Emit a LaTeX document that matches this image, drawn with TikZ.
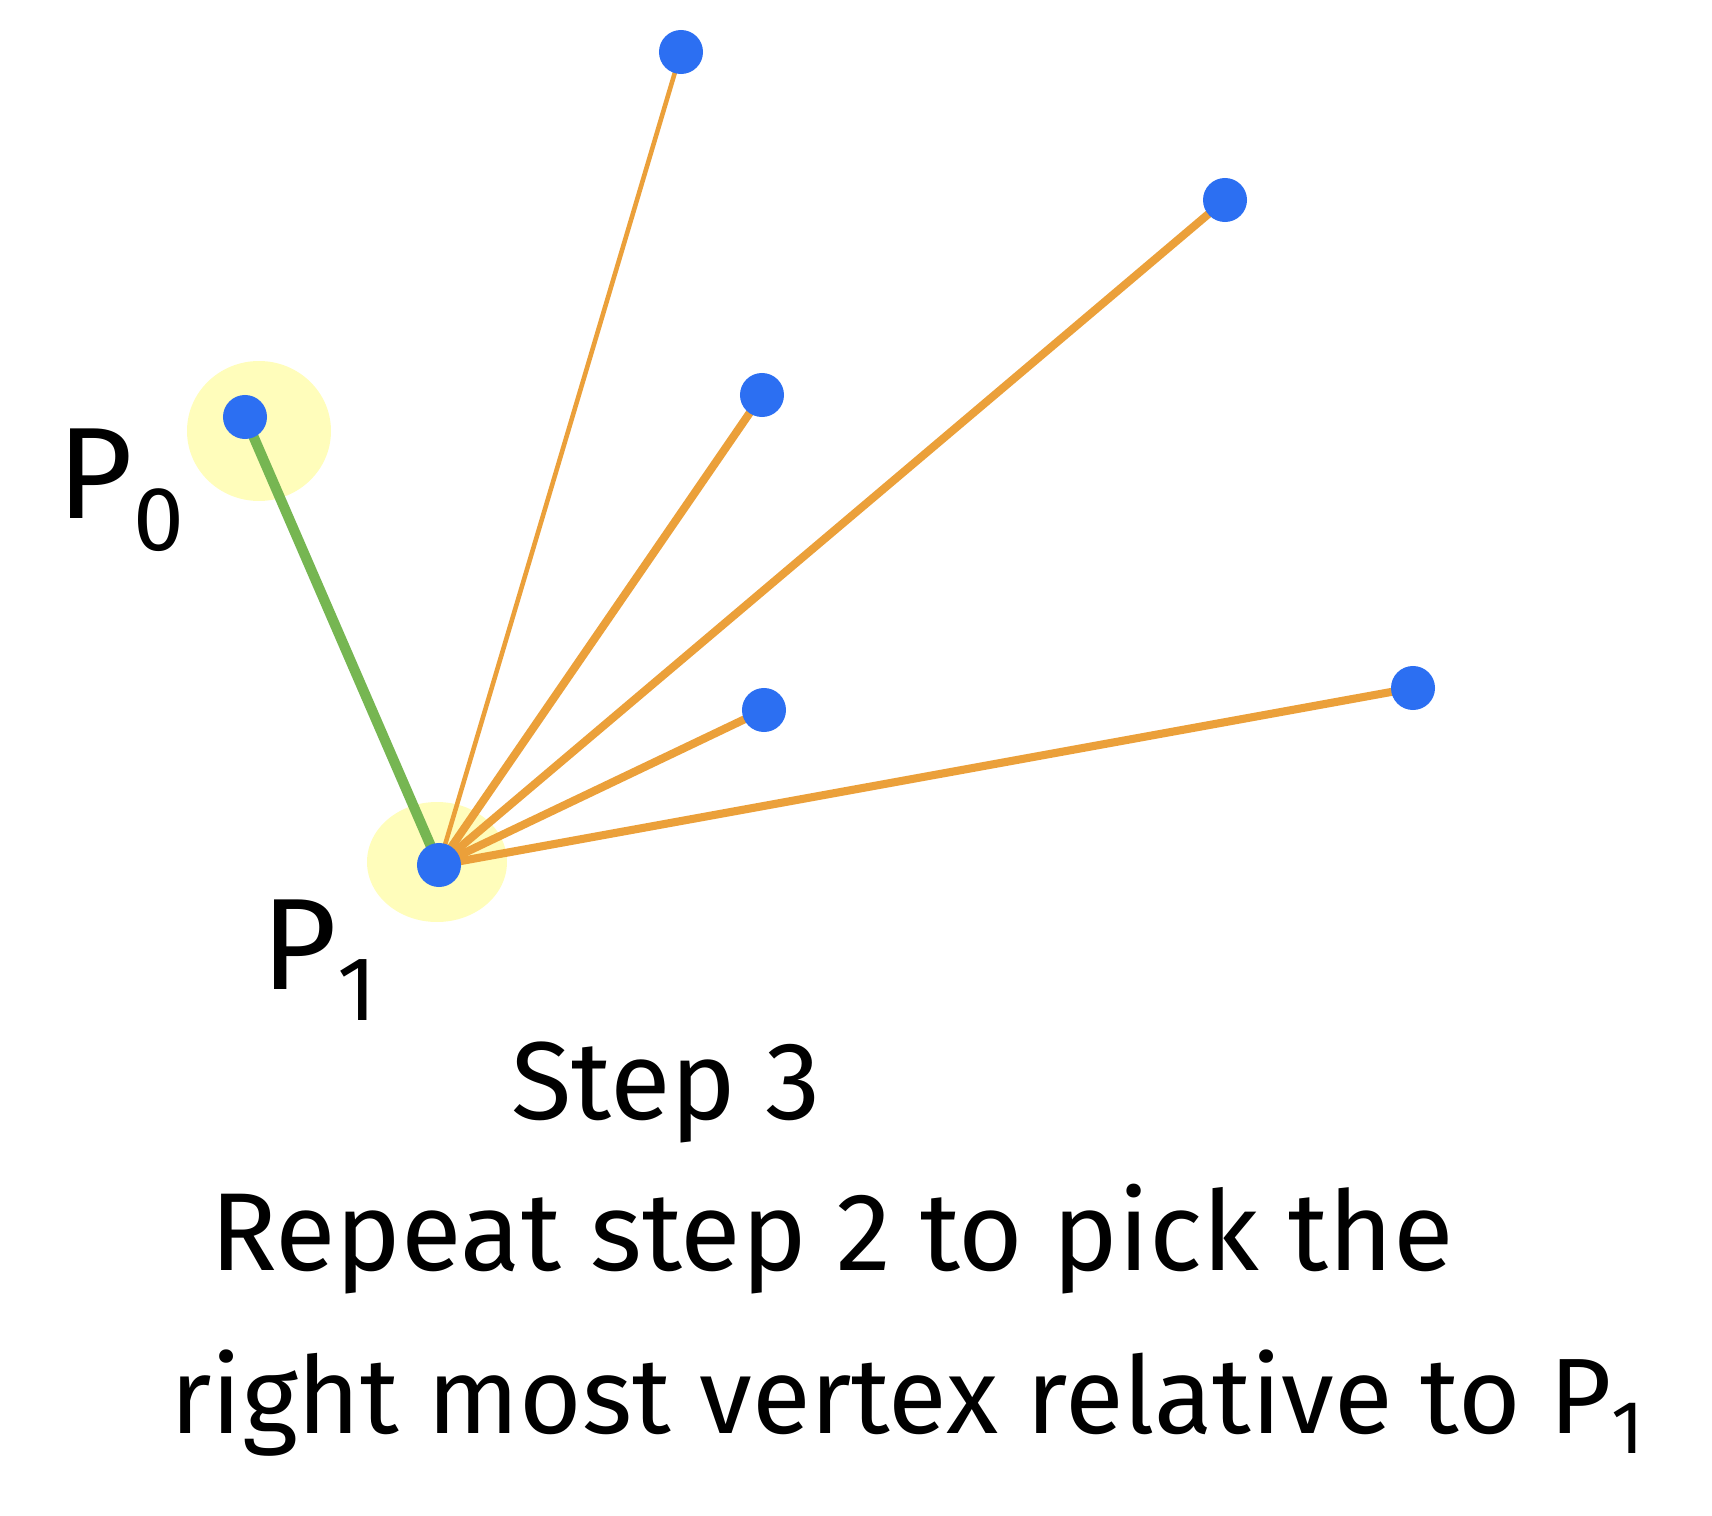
\documentclass[tikz,border=0pt]{standalone}
\usepackage{fontspec}
\setmainfont{Fira Sans}
\usepackage{amsmath}
\usepackage{color}

\definecolor{dotblue}{HTML}{2C6FF2}
\definecolor{hullorange}{HTML}{EBA03A}
\definecolor{hullgreen}{HTML}{76B652}
\definecolor{marker}{HTML}{FFFDBB}

\tikzset{
  pt/.style={circle,fill=dotblue,inner sep=0pt,minimum size=0.44cm},
  cand/.style={hullorange,line width=2.3pt,line cap=round},
  edge/.style={hullgreen,line width=2.9pt,line cap=round},
  hand/.style={font=\fontsize{31.5}{36}\selectfont},
  plabel/.style={font=\fontsize{37}{44}\selectfont}
}

\begin{document}
\begin{tikzpicture}[x=0.01cm,y=-0.01cm]
\useasboundingbox (0,0) rectangle (1712,1516);
%% highlights
\fill [marker] (259,431) ellipse (72 and 70);
\fill [marker] (437,862) ellipse (70 and 60);
%% points
\coordinate (p0) at (245,417);
\coordinate (p1) at (439,865);
\coordinate (top) at (681,52);
\coordinate (ur) at (1225,200);
\coordinate (mid) at (762,395);
\coordinate (low) at (764,710);
\coordinate (far) at (1413,688);
%% candidate lines
\draw [cand,line width=1.3pt] (p1) -- (top);
\draw [cand] (p1) -- (mid);
\draw [cand] (p1) -- (ur);
\draw [cand] (p1) -- (low);
\draw [cand] (p1) -- (far);
\draw [edge] (p1) -- (p0);
%% vertices
\foreach \v in {p0,p1,top,ur,mid,low,far}
  \node [pt] at (\v) {};
%% labels
\node [plabel] (lp0) at (122,490) {P\textsubscript{0}};
\node [plabel] (lp1) at (320,960) {P\textsubscript{1}};
\node [hand] (step) at (666,1092) {Step 3};
\node [hand] (line1) at (832,1239) {Repeat step 2 to pick the};
\node [hand,font=\fontsize{30.5}{36}\selectfont] (line2) at (908,1403) {right most vertex relative to P\textsubscript{1}};
\end{tikzpicture}
\end{document}
